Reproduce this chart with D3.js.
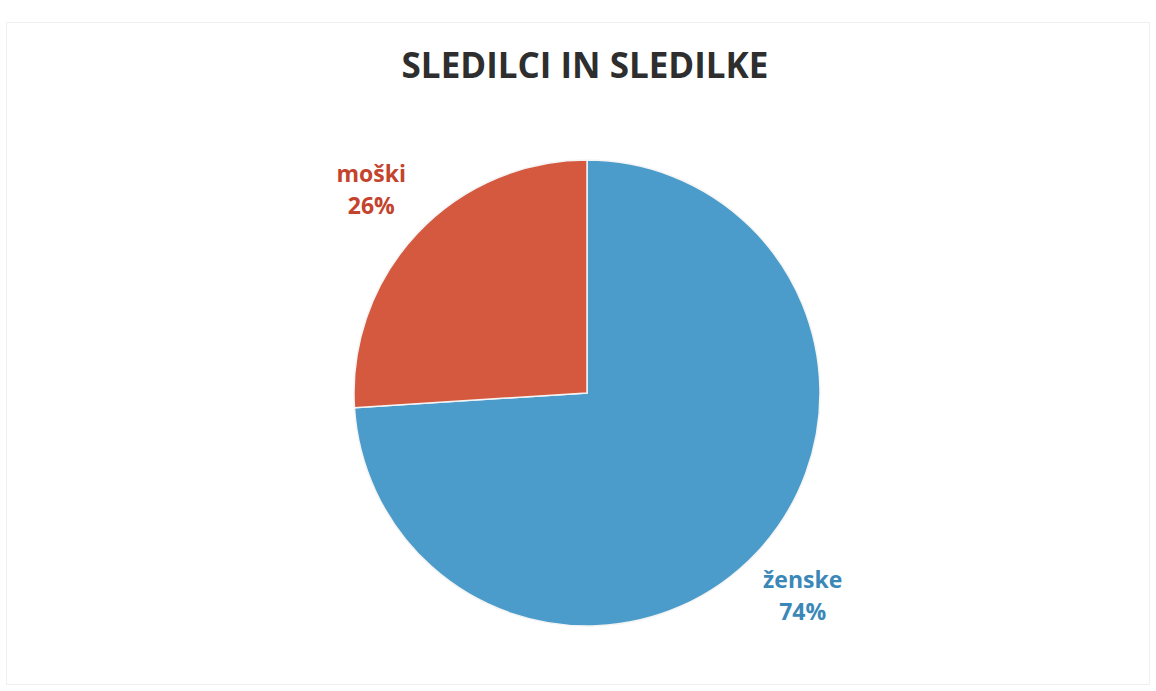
<!DOCTYPE html>
<html><head><meta charset="utf-8">
<script src="https://cdn.jsdelivr.net/npm/d3@7"></script>
<style>body{margin:0;background:#fff}svg{display:block}</style>
</head><body>
<script>
const categories = ["ženske", "moški"];
const values = [74, 26];
const sliceColors = ["#4b9ccb", "#d4593f"];
const labelColors = ["#3b88b8", "#c4432c"];
const title = "SLEDILCI IN SLEDILKE";

const W = 1156, H = 691;
const svg = d3.select("body").append("svg").attr("width", W).attr("height", H);

svg.append("rect").attr("x", 6.5).attr("y", 22.5).attr("width", 1143).attr("height", 662)
  .attr("fill", "none").attr("stroke", "#f0f0f0").attr("stroke-width", 1);

svg.append("text").attr("x", 585).attr("y", 78).attr("text-anchor", "middle")
  .attr("font-family", "'Open Sans', sans-serif").attr("font-weight", 700)
  .attr("font-size", 35).attr("fill", "#2e2e2e").text(title);

const cx = 587, cy = 393, r = 233;
const data = categories.map((c, i) => ({cat: c, value: values[i], i}));
const pie = d3.pie().value(d => d.value).sort(null);
const arc = d3.arc().innerRadius(0).outerRadius(r);
const g = svg.append("g").attr("transform", `translate(${cx},${cy})`);
const arcs = pie(data);
g.selectAll("path").data(arcs).join("path")
  .attr("d", arc).attr("fill", d => sliceColors[d.data.i])
  .attr("stroke", "#f4f4f4").attr("stroke-width", 1.5);

// labels outside
const labelArc = d3.arc().innerRadius(r * 1.27).outerRadius(r * 1.27);
arcs.forEach(a => {
  const [lx, ly] = labelArc.centroid(a);
  const t = g.append("text").attr("text-anchor", "middle")
    .attr("font-family", "'Open Sans', sans-serif").attr("font-weight", 700)
    .attr("font-size", 23).attr("fill", labelColors[a.data.i]);
  t.append("tspan").attr("x", lx).attr("y", ly - 8).text(a.data.cat);
  t.append("tspan").attr("x", lx).attr("y", ly + 24).text(a.data.value + "%");
});
</script>
</body></html>
